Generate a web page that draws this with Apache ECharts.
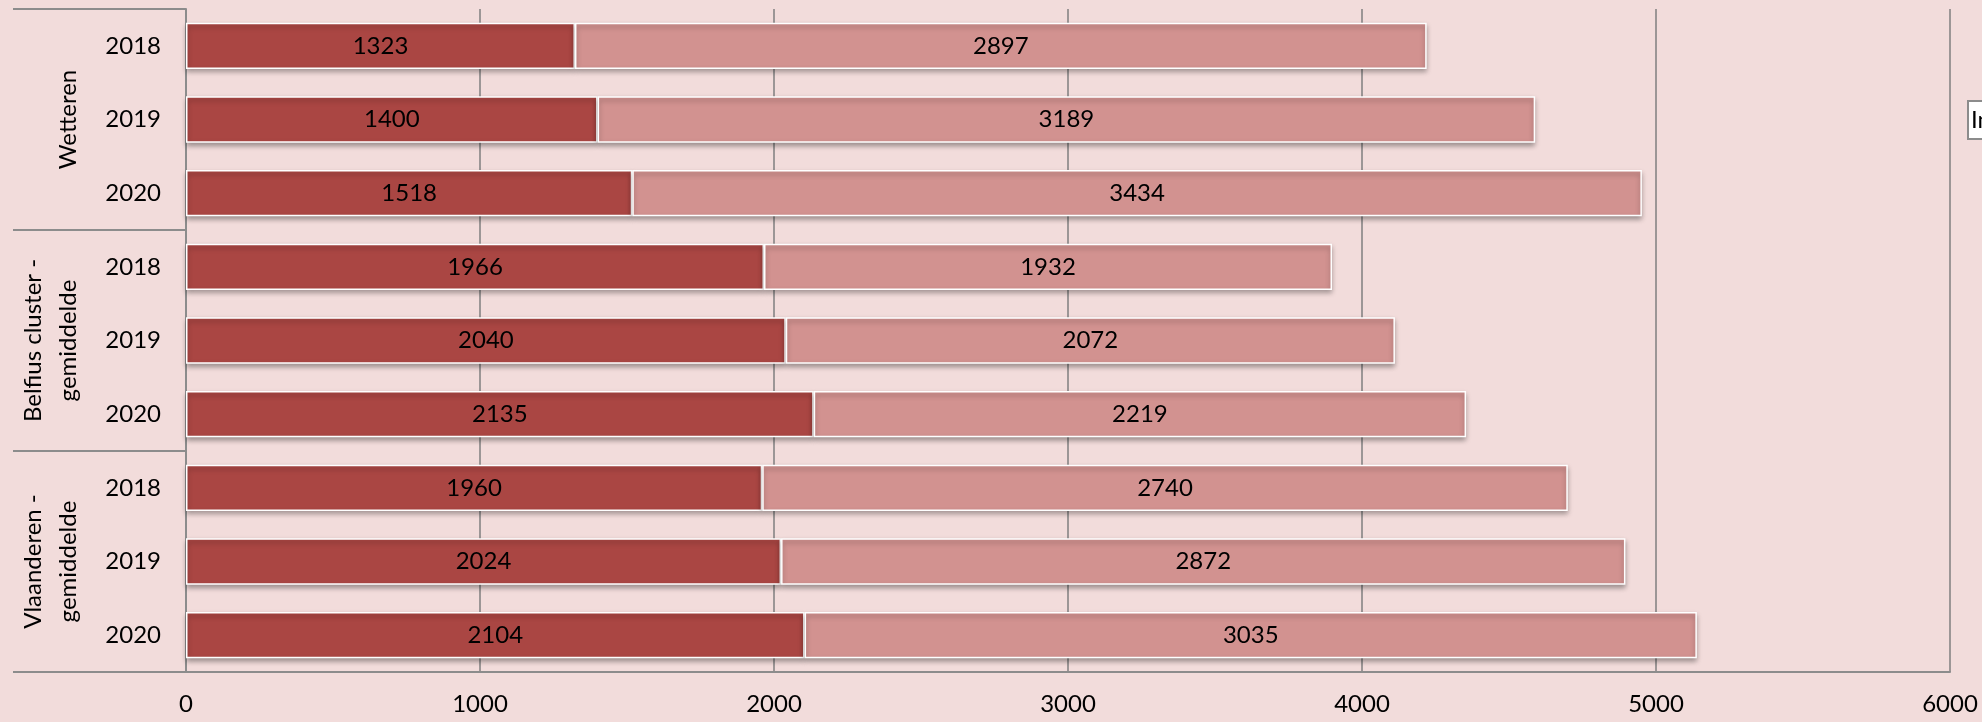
<!DOCTYPE html>
<html>
<head>
<meta charset="utf-8">
<script src="https://cdn.jsdelivr.net/npm/echarts@6/dist/echarts.min.js"></script>
<style>
html,body{margin:0;padding:0;background:#F2DCDB;}
#c{width:1982px;height:722px;}
</style>
</head>
<body>
<div id="c"></div>
<script>
const groups = ['Wetteren', 'Belfius cluster -\ngemiddelde', 'Vlaanderen -\ngemiddelde'];
const years = ['2018', '2019', '2020'];
const categories = [
  'Wetteren|2018','Wetteren|2019','Wetteren|2020',
  'Belfius|2018','Belfius|2019','Belfius|2020',
  'Vlaanderen|2018','Vlaanderen|2019','Vlaanderen|2020'
];
const seriesA = [1323, 1400, 1518, 1966, 2040, 2135, 1960, 2024, 2104];
const seriesB = [2897, 3189, 3434, 1932, 2072, 2219, 2740, 2872, 3035];
const xTicks = [0, 1000, 2000, 3000, 4000, 5000, 6000];

const FONT = 'Lato';
const FS = 24;
const chart = echarts.init(document.getElementById('c'));
const barStyle = (color) => ({
  color: color,
  borderColor: '#ffffff',
  borderWidth: 1.5,
  shadowColor: 'rgba(0,0,0,0.35)',
  shadowBlur: 5,
  shadowOffsetY: 3
});
const label = {
  show: true,
  position: 'inside',
  color: '#000',
  fontFamily: FONT,
  fontSize: FS
};
chart.setOption({
  backgroundColor: '#F2DCDB',
  animation: false,
  grid: {left: 186, right: 32, top: 9, bottom: 50},
  xAxis: {
    type: 'value',
    min: xTicks[0],
    max: xTicks[xTicks.length - 1],
    interval: 1000,
    axisLine: {show: true, lineStyle: {color: '#8c8c8c', width: 2}},
    axisTick: {show: false},
    splitLine: {show: true, lineStyle: {color: '#7f7f7f', width: 1.5}},
    axisLabel: {color: '#000', fontFamily: FONT, fontSize: FS, margin: 20,
      formatter: (v) => String(v)}
  },
  yAxis: [
    {
      type: 'category',
      data: categories,
      inverse: true,
      position: 'left',
      axisLine: {show: true, lineStyle: {color: '#8c8c8c', width: 2}},
      axisTick: {show: false},
      splitLine: {show: false},
      axisLabel: {
        color: '#000', fontFamily: FONT, fontSize: FS, margin: 25,
        formatter: (v) => v.split('|')[1]
      }
    },
    {
      type: 'category',
      data: groups,
      inverse: true,
      position: 'left',
      offset: 0,
      axisLine: {show: false},
      axisTick: {show: true, length: 173, lineStyle: {color: '#8c8c8c', width: 2}},
      splitLine: {show: false},
      axisLabel: {
        color: '#000', fontFamily: FONT, fontSize: FS, margin: 100,
        rotate: 90, lineHeight: 35, align: 'center'
      }
    }
  ],
  series: [
    {
      type: 'bar', stack: 's', yAxisIndex: 0, data: seriesA,
      barCategoryGap: '37%', itemStyle: barStyle('#AA4643'), label: label
    },
    {
      type: 'bar', stack: 's', yAxisIndex: 0, data: seriesB,
      barCategoryGap: '37%', itemStyle: barStyle('#D29290'), label: label
    }
  ],
  graphic: [
    {
      type: 'text', left: 1967, top: 100, z: 100,
      style: {
        text: 'Inwoners', fill: '#000', font: FS + 'px ' + FONT,
        backgroundColor: '#fff', borderColor: '#8c8c8c', borderWidth: 2,
        padding: [6, 8, 6, 2]
      }
    }
  ]
});
</script>
</body>
</html>
